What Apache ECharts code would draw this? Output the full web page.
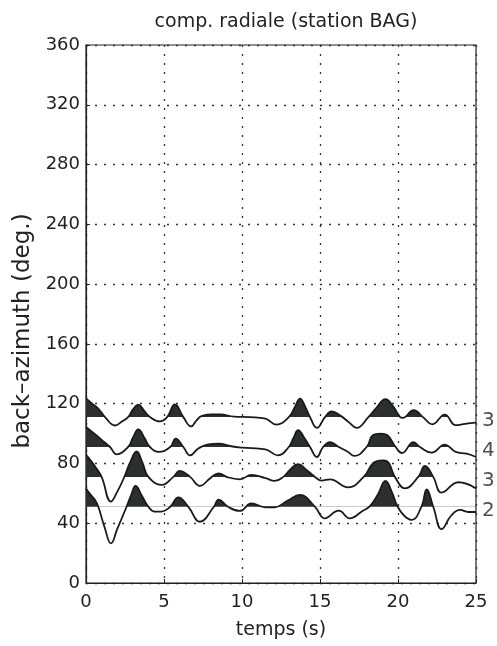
<!DOCTYPE html>
<html><head><meta charset="utf-8">
<script src="https://cdn.jsdelivr.net/npm/echarts@6/dist/echarts.min.js"></script>
<style>html,body{margin:0;padding:0;background:#fff}#c{width:497px;height:646px}</style>
</head><body><div id="c"></div>
<script>
const xTicks = [0, 5, 10, 15, 20, 25];
const yTicks = [0, 40, 80, 120, 160, 200, 240, 280, 320, 360];
const baselines = [111, 91, 71, 51];
const traceLabels = ['3', '4', '3', '2'];

// trace 1 (top)
const time1 = [0,0.4,0.8,1.22,1.86,2.3,2.7,3.0,3.36,3.75,4.1,4.74,5.2,5.7,6.24,6.73,7.1,7.4,8.0,8.6,9.5,10.5,11.5,12.2,13.0,13.4,13.72,14.05,14.36,14.8,15.32,15.75,16.3,16.8,17.35,18.1,18.6,19.2,19.7,20.14,20.3,21.0,21.6,22.2,23.0,23.7,24.3,25];
const amp1  = [12.5,9,5.6,0,-5.6,-3,0,5,8.3,4,0,-2.9,0,8.5,0,-6.2,-2,0.7,1.8,1.8,0.3,0,-1,-5,0,7,12.4,7,0,-7.2,0,3.9,1,-3,-7.2,0,6,12,7,0,-0.5,4.6,0,-4.8,1.7,-5.4,-4.5,-3.7];
// trace 2
const time2 = [0,0.4,0.79,1.2,1.54,1.97,2.7,3.0,3.35,3.75,4.1,4.64,5.4,5.75,6.24,6.67,7.2,7.84,8.5,9.3,10.0,11.5,12.3,13.0,13.3,13.6,14.0,14.36,14.8,15.2,15.65,16.2,16.8,17.2,17.99,18.4,18.9,19.3,19.85,20.25,21.0,21.4,22.15,23.0,23.7,24.4,25];
const amp2  = [13.4,10,6.7,3,0,-4.9,0,6,11.8,6,0,-3.3,0,5.6,0,-5.6,-1,1.8,2.2,0.5,-0.4,-1.6,-5.6,0,6,11.2,6,0,-6.7,0,3.3,0,-3.3,-6,0,8,9,8,0,-4,3.3,0,-3.8,1.6,-3.3,-4.5,-6.7];
// trace 3
const time3 = [0,0.3,0.58,1.0,1.6,2.0,2.46,2.8,3.25,3.6,4.0,4.85,5.6,6.0,6.67,7.3,8.0,8.5,9.1,9.87,10.6,11.5,12.1,12.65,13.1,13.6,14.1,14.68,15.1,15.64,16.8,17.8,18.5,19.0,19.3,19.8,20.45,21.3,21.73,22.26,22.8,23.87,25];
const amp3  = [14.7,11,7,0,-16.5,-10,0,9,17,10,0,-5.4,0,4,0,-6,-0.5,2.4,-0.3,-1.6,1.3,-0.8,-2.7,0,5,8.6,5,0,-2.5,-1.6,-7,0,10,11,10.5,0,-7.7,0,7.3,0,-10.5,-3.6,-7.7];
// trace 4 (bottom)
const time4 = [0,0.3,0.58,0.79,1.2,1.6,2.0,2.6,2.9,3.18,3.6,4.0,4.4,4.85,5.4,5.92,6.56,7.3,8.2,8.5,9.1,9.87,10.6,11.5,12.1,12.9,13.72,14.68,15.3,16.2,16.9,17.7,18.2,18.7,19.2,19.6,19.98,20.4,20.88,21.5,21.84,22.26,22.8,23.4,23.98,24.5,25];
const amp4  = [12.3,8,4.5,0,-14,-24.5,-15,0,8,13.9,7,0,-3.3,-3.2,0,6.3,0,-10,0,4.8,0,-2.8,2.3,-0.3,-0.3,4,7.9,0,-7.7,-2.6,-7.7,-3,0.5,8,17.3,10,0,-6,-8.8,0,11.7,0,-15,-6,-2.1,-3.5,-3.5];

const times = [time1, time2, time3, time4];
const amps = [amp1, amp2, amp3, amp4];

const FONT = 'DejaVu Sans';
const TXT = '#222';
const fillColor = '#2b2f2e';

const series = [];
const visualMaps = [];
for (let i = 0; i < 4; i++) {
  const base = baselines[i];
  series.push({
    type: 'line',
    data: times[i].map((t, k) => [t, base + amps[i][k]]),
    smooth: 0.45,
    symbol: 'none',
    clip: true,
    lineStyle: { color: '#1a1a1a', width: 1.8 },
    areaStyle: { origin: base, opacity: 1 },
    z: 3
  });
  visualMaps.push({
    type: 'piecewise',
    show: false,
    seriesIndex: i,
    dimension: 1,
    pieces: [
      { gte: -500, lte: base, color: 'rgba(255,255,255,0)' },
      { gt: base, lte: 1000, color: fillColor }
    ]
  });
}
series.push({
  type: 'scatter',
  symbolSize: 0,
  silent: true,
  data: baselines.map((b, i) => ({ value: [25, b - 2.4], name: traceLabels[i] })),
  label: {
    show: true, position: 'right', distance: 6,
    formatter: p => p.name,
    fontFamily: FONT, fontSize: 20, color: TXT
  },
  z: 5
});

const chart = echarts.init(document.getElementById('c'), null, { renderer: 'canvas' });
chart.setOption({
  backgroundColor: '#fff',
  animation: false,
  title: {
    text: 'comp. radiale (station BAG)',
    left: 281, top: 8, textAlign: 'center',
    textStyle: { fontFamily: FONT, fontSize: 19, fontWeight: 'normal', color: TXT }
  },
  grid: { left: 86, right: 21, top: 45, bottom: 63, show: true, borderColor: '#222', borderWidth: 1.2, backgroundColor: 'transparent' },
  visualMap: visualMaps,
  xAxis: {
    type: 'value', min: xTicks[0], max: xTicks[xTicks.length - 1], interval: 5,
    name: 'temps (s)', nameLocation: 'middle', nameGap: 38,
    nameTextStyle: { fontFamily: FONT, fontSize: 19, color: TXT },
    axisLine: { show: true, onZero: false, lineStyle: { color: '#222', width: 1.2 } },
    axisTick: { show: true, inside: true, length: 4, lineStyle: { color: '#222' } },
    axisLabel: { fontFamily: FONT, fontSize: 18, color: TXT, margin: 10 },
    splitLine: { show: true, lineStyle: { type: [2, 7], color: '#333', width: 1.3 } }
  },
  yAxis: {
    type: 'value', min: yTicks[0], max: yTicks[yTicks.length - 1], interval: 40,
    name: 'back–azimuth (deg.)', nameLocation: 'middle', nameGap: 50, nameRotate: 90,
    nameTextStyle: { fontFamily: FONT, fontSize: 23, color: TXT, padding: [0, 34, 0, 0] },
    axisLine: { show: true, onZero: false, lineStyle: { color: '#222', width: 1.2 } },
    axisTick: { show: true, inside: true, length: 4, lineStyle: { color: '#222' } },
    axisLabel: { fontFamily: FONT, fontSize: 18, color: TXT, margin: 6 },
    splitLine: { show: true, lineStyle: { type: [2, 7], color: '#333', width: 1.3 } }
  },
  series: series
});
</script></body></html>
